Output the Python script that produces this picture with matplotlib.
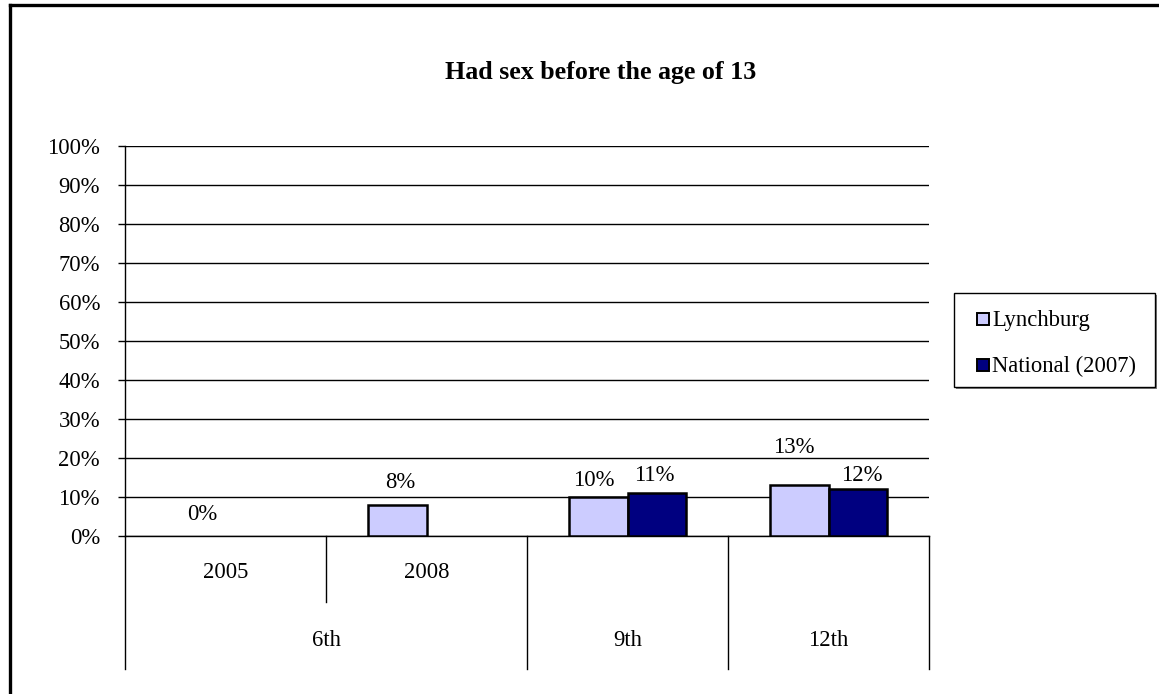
import numpy as np
import matplotlib
matplotlib.use("Agg")
import matplotlib.pyplot as plt
from matplotlib.lines import Line2D
from matplotlib.patches import Rectangle

plt.rcParams['font.family'] = ['Liberation Serif', 'DejaVu Serif']

# data
years = ["2005", "2008", "", ""]
grades = ["6th", "9th", "12th"]
grade_spans = [(0, 1), (2, 2), (3, 3)]
lynchburg = [0, 8, 10, 13]
national = [np.nan, np.nan, 11, 12]
series_names = ["Lynchburg", "National (2007)"]
series_colors = ["#CCCCFF", "#000080"]
title = "Had sex before the age of 13"

# label nudges (pixels) as placed in the original chart
lyn_nudge = [(6, 22), (3, 22), (-5, 17), (-6, 38)]
nat_nudge = [(0, 0), (0, 0), (-2, 18), (4, 14)]

FS = 16.3
W, H = 1159, 694
fig = plt.figure(figsize=(W / 100, H / 100), dpi=100)
ax = fig.add_axes([125 / W, (H - 536) / H, (929 - 125) / W, (536 - 146) / H])

x = np.arange(len(lynchburg))
bw = 0.2886
for vals, off, col in [(lynchburg, -bw / 2, series_colors[0]), (national, bw / 2, series_colors[1])]:
    lws = [0 if (np.isnan(v) or v == 0) else 1.8 for v in vals]
    ax.bar(x + off, vals, bw, color=col, edgecolor="black", linewidth=lws, zorder=3)

for i, v in enumerate(lynchburg):
    ax.annotate(f"{v:.0f}%", (x[i] - bw / 2, v), xytext=lyn_nudge[i], textcoords="offset pixels",
                ha="center", va="center", fontsize=FS)
for i, v in enumerate(national):
    if not np.isnan(v):
        ax.annotate(f"{v:.0f}%", (x[i] + bw / 2, v), xytext=nat_nudge[i], textcoords="offset pixels",
                    ha="center", va="center", fontsize=FS)

ax.set_xlim(-0.5, len(lynchburg) - 0.5)
ax.set_ylim(0, 100)
ax.set_yticks(range(0, 101, 10))
ax.set_yticklabels([f"{t}%" for t in range(0, 101, 10)], fontsize=FS)
ax.tick_params(axis="y", length=5, width=1, pad=13)
ax.set_xticks([])
ax.grid(axis="y", color="black", linewidth=1)
ax.set_axisbelow(True)
for s in ["top", "right"]:
    ax.spines[s].set_visible(False)
ax.spines["left"].set_linewidth(1)
ax.spines["bottom"].set_linewidth(1)

# multi-level category axis
tr = ax.get_xaxis_transform()
ax_h = 536 - 146
def yfrac(py):
    return (536 - py) / ax_h

for xs in [-0.5, 1.5, 2.5, 3.5]:
    ax.plot([xs, xs], [0, yfrac(669)], color="black", lw=1, transform=tr, clip_on=False)
ax.plot([0.5, 0.5], [0, yfrac(602)], color="black", lw=1, transform=tr, clip_on=False)
for i, lab in enumerate(years):
    if lab:
        ax.text(i, yfrac(573), lab, transform=tr, ha="center", va="center", fontsize=FS)
for lab, (a, b) in zip(grades, grade_spans):
    ax.text((a + b) / 2, yfrac(640), lab, transform=tr, ha="center", va="center", fontsize=FS)

fig.text(601 / W, 1 - 72 / H, title, ha="center", va="center", fontsize=18.7, fontweight="bold")

# legend box drawn by hand (pixel layout of the original)
def fx(px):
    return px / W
def fy(py):
    return 1 - py / H

fig.add_artist(Rectangle((fx(956), fy(389)), fx(1157) - fx(956), fy(295) - fy(389), transform=fig.transFigure,
                         facecolor="#808080", edgecolor="none", zorder=4))
fig.add_artist(Rectangle((fx(954), fy(387)), fx(1155) - fx(954), fy(293) - fy(387), transform=fig.transFigure,
                         facecolor="white", edgecolor="black", linewidth=1, zorder=5))
for k, (name, col) in enumerate(zip(series_names, series_colors)):
    base = 326 + 46 * k
    fig.add_artist(Rectangle((fx(977), fy(base - 1)), fx(989) - fx(977), fy(base - 13) - fy(base - 1),
                             transform=fig.transFigure, facecolor=col, edgecolor="black", linewidth=1.4, zorder=6))
    fig.text(fx(992), fy(base), name, ha="left", va="baseline", fontsize=FS, zorder=6)

# outer frame (only top and left are in view)
fig.add_artist(Line2D([9.5 / W, 9.5 / W], [0, 1 - 5 / H], color="black", lw=2.4, transform=fig.transFigure))
fig.add_artist(Line2D([9.5 / W, 1], [1 - 5 / H, 1 - 5 / H], color="black", lw=2.4, transform=fig.transFigure))

fig.savefig("out.png", dpi=100)
